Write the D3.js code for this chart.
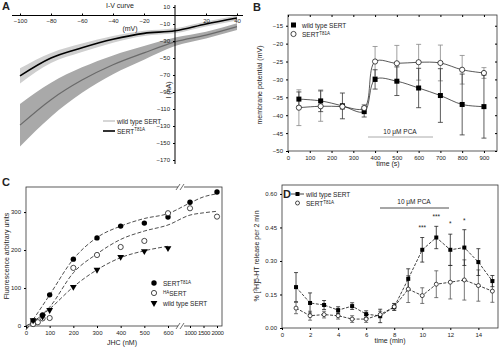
<!DOCTYPE html>
<html>
<head>
<meta charset="utf-8">
<script src="https://cdnjs.cloudflare.com/ajax/libs/d3/7.8.5/d3.min.js"></script>
<style>
  body, html { margin: 0; padding: 0; background: white; overflow: hidden; }
  svg text { font-family: 'Liberation Sans', Arial, sans-serif; fill: #222; }
  .tick text { font-size: 6px; }
  .axisLabel { font-size: 7px; }
  .panel { font-size: 11px; font-weight: bold; }
  .leg { font-size: 6.5px; }
</style>
</head>
<body>
<svg id="chart" width="500" height="349"></svg>
<script>
// ---- Panel A: I-V curve ----
const ivVoltage = [-100, -80, -60, -40, -20, 0, 20, 40];
const ivT81A = [-71, -50, -38, -28, -21, -18, -10, -3];
const ivT81ASem = [9, 6, 5, 4, 3, 3, 3, 3];
const ivWT = [-129, -99, -76, -58, -44, -31, -23, -13];
const ivWTSem = [25, 20, 15, 11, 8, 5, 4, 4];
const ivXTicks = [-100, -80, -60, -40, -20, 20, 40];
const ivYTicks = [10, -10, -30, -50, -70, -90, -110, -130, -150, -170];

// ---- Panel B: membrane potential ----
const mpTime = [50, 150, 250, 350, 400, 500, 600, 700, 800, 900];
const mpWT = [-35.5, -36, -37.4, -39, -30, -30.5, -32.4, -34.5, -37, -37.6];
const mpWTErr = [2, 3, 3.6, 1.5, 2.7, 4, 5.5, 7.5, 8.5, 8.8];
const mpT81A = [-37.9, -37.5, -37.6, -38, -25, -25.5, -25.2, -25.4, -27.3, -28.2];
const mpT81AErr = [5, 4.2, 0.8, 1, 4.2, 5, 5, 5, 4, 1.5];
const mpXTicks = [0, 100, 200, 300, 400, 500, 600, 700, 800, 900];
const mpYTicks = [-15, -20, -25, -30, -35, -40, -45, -50];

// ---- Panel C: uptake fluorescence ----
const flConc = [30, 70, 100, 200, 300, 400, 500, 600, 1000, 2000];
const flT81A = [13, 29, 82, 176, 232, 263, 271, 287, 326, 353];
const flHAConc = [30, 50, 70, 100, 200, 300, 400, 500, 600, 1000, 2000];
const flHA = [5, 10, 20, 21, 153, 187, 208, 224, 297, 310, 288];
const flWTConc = [30, 70, 100, 200, 300, 400, 500, 600];
const flWT = [15, 25, 42, 103, 148, 182, 197, 205];
// fitted curves
const fitConc = [0, 50, 100, 200, 300, 400, 500, 600, 1000, 1500, 2000];
const fitT81A = [-10, 35, 82, 176, 233, 263, 283, 296, 324, 340, 348];
const fitHA = [-8, 20, 50, 140, 190, 228, 250, 266, 292, 298, 302];
const fitWTConc = [0, 50, 100, 200, 300, 400, 500, 600];
const fitWT = [0, 20, 45, 103, 148, 180, 198, 210];
const flXTicks = [0, 100, 200, 300, 400, 500, 600, 1000, 1500, 2000];
const flYTicks = [0, 100, 200, 300];

// ---- Panel D: [3H]5-HT release ----
const relTime = [1, 2, 3, 4, 5, 6, 7, 8, 9, 10, 11, 12, 13, 14, 15];
const relWT = [0.183, 0.112, 0.103, 0.08, 0.098, 0.062, 0.054, 0.094, 0.22, 0.35, 0.405, 0.35, 0.36, 0.295, 0.21];
const relWTErr = [0.065, 0.045, 0.02, 0.015, 0.015, 0.015, 0.03, 0.015, 0.045, 0.055, 0.05, 0.07, 0.08, 0.06, 0.025];
const relT81A = [0.089, 0.055, 0.06, 0.055, 0.04, 0.04, 0.06, 0.095, 0.174, 0.145, 0.196, 0.205, 0.215, 0.19, 0.165];
const relT81AErr = [0.025, 0.02, 0.015, 0.015, 0.015, 0.015, 0.015, 0.015, 0.06, 0.035, 0.06, 0.075, 0.09, 0.07, 0.05];
const relStars = [{ t: 10, y: 0.44, s: "***" }, { t: 11, y: 0.49, s: "***" }, { t: 12, y: 0.455, s: "*" }, { t: 13, y: 0.47, s: "*" }];
const relXTicks = [0, 2, 4, 6, 8, 10, 12, 14];
const relYTicks = [0, 0.15, 0.30, 0.45, 0.60];

const svg = d3.select('#chart');

function sertLabel(sel, x, y, sup) {
  const t = sel.append('text').attr('class', 'leg').attr('x', x).attr('y', y);
  t.append('tspan').text('SERT');
  t.append('tspan').attr('dy', -2.5).attr('font-size', 4.5).text(sup);
}

// ================= A =================
(function () {
  const x = d3.scaleLinear().domain([-100, 40]).range([20, 237]);
  const y = d3.scaleLinear().domain([0, -170]).range([15.5, 160]);
  const g = svg.append('g');

  const area = (vals, sem) => d3.area()
    .x((d, i) => x(ivVoltage[i]))
    .y0((d, i) => y(vals[i] - sem[i]))
    .y1((d, i) => y(vals[i] + sem[i]))
    .curve(d3.curveMonotoneX)(ivVoltage);
  const line = (vals) => d3.line()
    .x((d, i) => x(ivVoltage[i]))
    .y((d, i) => y(vals[i]))
    .curve(d3.curveMonotoneX)(ivVoltage);

  g.append('path').attr('d', area(ivWT, ivWTSem)).attr('fill', '#a9a9a9');
  g.append('path').attr('d', area(ivT81A, ivT81ASem)).attr('fill', '#cfcfcf');
  g.append('path').attr('d', line(ivWT)).attr('fill', 'none').attr('stroke', '#6a6a6a').attr('stroke-width', 1.2);
  g.append('path').attr('d', line(ivT81A)).attr('fill', 'none').attr('stroke', '#000').attr('stroke-width', 1.6);

  // x axis along I = 0
  const xa = g.append('g').attr('transform', `translate(0,${y(0)})`)
    .call(d3.axisTop(x).tickValues(ivXTicks).tickSize(2).tickSizeOuter(0));
  xa.select('.domain').attr('d', `M12,0H243`);
  xa.selectAll('.tick text').attr('y', 7).attr('dy', 0);

  const ya = g.append('g').attr('transform', `translate(${x(0)},0)`)
    .call(d3.axisLeft(y).tickValues(ivYTicks).tickSize(2).tickSizeOuter(0));
  ya.select('.domain').attr('d', `M0,5V164`);

  g.append('text').attr('class', 'axisLabel').attr('x', 120).attr('y', 8).attr('text-anchor', 'middle').text('I-V curve');
  g.append('text').attr('class', 'axisLabel').attr('x', 130).attr('y', 31).attr('text-anchor', 'middle').text('(mV)');
  g.append('text').attr('class', 'axisLabel')
    .attr('transform', 'translate(171,90) rotate(-90)').attr('text-anchor', 'middle').text('I (nA)');

  // legend
  g.append('line').attr('x1', 103).attr('x2', 115).attr('y1', 121).attr('y2', 121).attr('stroke', '#bbb').attr('stroke-width', 1.2);
  g.append('text').attr('class', 'leg').attr('x', 117).attr('y', 123.5).text('wild type SERT');
  g.append('line').attr('x1', 103).attr('x2', 115).attr('y1', 131).attr('y2', 131).attr('stroke', '#000').attr('stroke-width', 1.6);
  sertLabel(g, 117, 133.5, 'T81A');

  g.append('text').attr('class', 'panel').attr('x', 2).attr('y', 10).text('A');
})();

// ================= B =================
(function () {
  const x = d3.scaleLinear().domain([0, 960]).range([288, 497]);
  const y = d3.scaleLinear().domain([-50, -12]).range([151, 15]);
  const g = svg.append('g');

  g.append('rect').attr('x', 288).attr('y', 15).attr('width', 209).attr('height', 136)
    .attr('fill', 'none').attr('stroke', '#333').attr('stroke-width', 0.8);
  const xa = g.append('g').attr('transform', 'translate(0,151)')
    .call(d3.axisBottom(x).tickValues(mpXTicks).tickSize(2).tickSizeOuter(0));
  const ya = g.append('g').attr('transform', 'translate(288,0)')
    .call(d3.axisLeft(y).tickValues(mpYTicks).tickSize(2).tickSizeOuter(0));
  // mirrored ticks on the top and right
  g.append('g').attr('transform', 'translate(0,15)')
    .call(d3.axisBottom(x).tickValues(mpXTicks).tickSize(2).tickFormat('').tickSizeOuter(0));
  g.append('g').attr('transform', 'translate(497,0)')
    .call(d3.axisLeft(y).tickValues(mpYTicks).tickSize(2).tickFormat('').tickSizeOuter(0));
  g.selectAll('.domain').remove();

  const line = (vals) => d3.line()
    .x((d, i) => x(mpTime[i])).y((d, i) => y(vals[i]))
    .curve(d3.curveCatmullRom.alpha(0.5))(mpTime);

  // error bars
  function bars(vals, err, col) {
    mpTime.forEach((t, i) => {
      const cx = x(t);
      g.append('line').attr('x1', cx).attr('x2', cx).attr('y1', y(vals[i] - err[i])).attr('y2', y(vals[i] + err[i])).attr('stroke', col).attr('stroke-width', 0.8);
      [vals[i] - err[i], vals[i] + err[i]].forEach(v =>
        g.append('line').attr('x1', cx - 2.5).attr('x2', cx + 2.5).attr('y1', y(v)).attr('y2', y(v)).attr('stroke', col).attr('stroke-width', 0.8));
    });
  }
  bars(mpT81A, mpT81AErr, '#888');
  bars(mpWT, mpWTErr, '#333');

  g.append('path').attr('d', line(mpWT)).attr('fill', 'none').attr('stroke', '#111').attr('stroke-width', 0.7);
  g.append('path').attr('d', line(mpT81A)).attr('fill', 'none').attr('stroke', '#111').attr('stroke-width', 0.7);

  g.selectAll('.sq').data(mpTime).join('rect')
    .attr('x', (d) => x(d) - 2.5).attr('y', (d, i) => y(mpWT[i]) - 2.5)
    .attr('width', 5).attr('height', 5).attr('fill', '#000');
  g.selectAll('.ci').data(mpTime).join('circle')
    .attr('cx', (d) => x(d)).attr('cy', (d, i) => y(mpT81A[i])).attr('r', 2.6)
    .attr('fill', 'white').attr('stroke', '#000').attr('stroke-width', 0.7);

  // PCA bar
  g.append('line').attr('x1', 368).attr('x2', 433).attr('y1', 137).attr('y2', 137).attr('stroke', '#aaa').attr('stroke-width', 1);
  g.append('text').attr('class', 'leg').attr('x', 400).attr('y', 134).attr('text-anchor', 'middle').text('10 μM PCA');

  g.append('text').attr('class', 'axisLabel').attr('x', 388).attr('y', 166).attr('text-anchor', 'middle').text('time (s)');
  g.append('text').attr('class', 'axisLabel')
    .attr('transform', 'translate(262,85) rotate(-90)').attr('text-anchor', 'middle').text('membrane potential (mV)');

  // legend
  g.append('rect').attr('x', 291).attr('y', 22.5).attr('width', 5).attr('height', 5).attr('fill', '#000');
  g.append('text').attr('class', 'leg').attr('x', 302).attr('y', 27.5).text('wild type SERT');
  g.append('circle').attr('cx', 293.5).attr('cy', 34).attr('r', 2.6).attr('fill', 'white').attr('stroke', '#000').attr('stroke-width', 0.7);
  sertLabel(g, 302, 37, 'T81A');

  g.append('text').attr('class', 'panel').attr('x', 253).attr('y', 11).text('B');
})();

// ================= C =================
(function () {
  // broken x axis: linear 0-600, then compressed 1000-2000
  const x = d3.scaleLinear().domain([0, 600, 1000, 2000]).range([26, 168, 190, 217]);
  const y = d3.scaleLinear().domain([0, 366]).range([326, 187]);
  const g = svg.append('g');

  g.append('rect').attr('x', 26).attr('y', 187).attr('width', 196).attr('height', 139)
    .attr('fill', 'none').attr('stroke', '#333').attr('stroke-width', 0.8);
  const xa = g.append('g').attr('transform', 'translate(0,326)')
    .call(d3.axisBottom(x).tickValues(flXTicks).tickSize(2).tickFormat(d3.format('d')).tickSizeOuter(0));
  xa.selectAll('.tick text').filter(d => d >= 1000).attr('font-size', 5).attr('letter-spacing', -0.3);
  const ya = g.append('g').attr('transform', 'translate(26,0)')
    .call(d3.axisLeft(y).tickValues(flYTicks).tickSize(2).tickSizeOuter(0));
  g.selectAll('.domain').remove();

  // axis break marks
  [187, 326].forEach(yy => {
    g.append('rect').attr('x', 178).attr('y', yy - 1).attr('width', 6).attr('height', 2).attr('fill', 'white');
    [178, 182].forEach(xx => g.append('line').attr('x1', xx - 2).attr('x2', xx + 2).attr('y1', yy + 3).attr('y2', yy - 3).attr('stroke', '#333').attr('stroke-width', 0.7));
  });

  const dashed = (cx, vals) => d3.line().x((d, i) => x(cx[i])).y((d, i) => y(vals[i])).curve(d3.curveMonotoneX)(cx);
  [[fitConc, fitT81A], [fitConc, fitHA], [fitWTConc, fitWT]].forEach(([cx, v]) =>
    g.append('path').attr('d', dashed(cx, v)).attr('fill', 'none').attr('stroke', '#222').attr('stroke-width', 0.8).attr('stroke-dasharray', '4,2'));

  g.selectAll('.fc').data(flConc).join('circle')
    .attr('cx', d => x(d)).attr('cy', (d, i) => y(flT81A[i])).attr('r', 2.7).attr('fill', '#000');
  g.selectAll('.oc').data(flHAConc).join('circle')
    .attr('cx', d => x(d)).attr('cy', (d, i) => y(flHA[i])).attr('r', 2.6)
    .attr('fill', 'white').attr('stroke', '#000').attr('stroke-width', 0.7);
  const tri = d3.symbol().type(d3.symbolTriangle).size(20);
  g.selectAll('.tr').data(flWTConc).join('path')
    .attr('d', tri).attr('transform', (d, i) => `translate(${x(d)},${y(flWT[i])}) rotate(180)`).attr('fill', '#000');

  g.append('text').attr('class', 'axisLabel').attr('x', 122).attr('y', 345).attr('text-anchor', 'middle').text('JHC (nM)');
  g.append('text').attr('class', 'axisLabel')
    .attr('transform', 'translate(9,256) rotate(-90)').attr('text-anchor', 'middle').text('Fluorescence arbitrary units');

  // legend
  g.append('circle').attr('cx', 154).attr('cy', 283).attr('r', 2.7).attr('fill', '#000');
  sertLabel(g, 163, 286, 'T81A');
  g.append('circle').attr('cx', 154).attr('cy', 293).attr('r', 2.6).attr('fill', 'white').attr('stroke', '#000').attr('stroke-width', 0.7);
  const ha = g.append('text').attr('class', 'leg').attr('x', 163).attr('y', 296);
  ha.append('tspan').attr('dy', -2.5).attr('font-size', 4.5).text('HA');
  ha.append('tspan').attr('dy', 2.5).text('SERT');
  g.append('path').attr('d', tri).attr('transform', 'translate(154,303) rotate(180)').attr('fill', '#000');
  g.append('text').attr('class', 'leg').attr('x', 163).attr('y', 305.5).text('wild type SERT');

  g.append('text').attr('class', 'panel').attr('x', 2).attr('y', 186).text('C');
})();

// ================= D =================
(function () {
  const x = d3.scaleLinear().domain([0, 15.4]).range([282, 498]);
  const y = d3.scaleLinear().domain([0, 0.64]).range([328, 185]);
  const g = svg.append('g');

  g.append('rect').attr('x', 282).attr('y', 185).attr('width', 216).attr('height', 143)
    .attr('fill', 'none').attr('stroke', '#333').attr('stroke-width', 0.8);
  g.append('g').attr('transform', 'translate(0,328)')
    .call(d3.axisBottom(x).tickValues(relXTicks).tickSize(2).tickSizeOuter(0));
  g.append('g').attr('transform', 'translate(282,0)')
    .call(d3.axisLeft(y).tickValues(relYTicks).tickSize(2).tickFormat(d3.format('.2f')).tickSizeOuter(0));
  g.selectAll('.domain').remove();

  function bars(vals, err, col) {
    relTime.forEach((t, i) => {
      const cx = x(t);
      g.append('line').attr('x1', cx).attr('x2', cx).attr('y1', y(vals[i] - err[i])).attr('y2', y(vals[i] + err[i])).attr('stroke', col).attr('stroke-width', 0.8);
      [vals[i] - err[i], vals[i] + err[i]].forEach(v =>
        g.append('line').attr('x1', cx - 2).attr('x2', cx + 2).attr('y1', y(v)).attr('y2', y(v)).attr('stroke', col).attr('stroke-width', 0.8));
    });
  }
  bars(relT81A, relT81AErr, '#555');
  bars(relWT, relWTErr, '#222');

  const line = (vals) => d3.line().x((d, i) => x(relTime[i])).y((d, i) => y(vals[i]))(relTime);
  g.append('path').attr('d', line(relWT)).attr('fill', 'none').attr('stroke', '#111').attr('stroke-width', 0.8).attr('stroke-dasharray', '3,1.5');
  g.append('path').attr('d', line(relT81A)).attr('fill', 'none').attr('stroke', '#111').attr('stroke-width', 0.8).attr('stroke-dasharray', '3,1.5');

  g.selectAll('.sq').data(relTime).join('rect')
    .attr('x', d => x(d) - 2).attr('y', (d, i) => y(relWT[i]) - 2).attr('width', 4).attr('height', 4).attr('fill', '#000');
  g.selectAll('.ci').data(relTime).join('circle')
    .attr('cx', d => x(d)).attr('cy', (d, i) => y(relT81A[i])).attr('r', 2)
    .attr('fill', 'white').attr('stroke', '#000').attr('stroke-width', 0.7);

  relStars.forEach(s =>
    g.append('text').attr('class', 'leg').attr('x', x(s.t)).attr('y', y(s.y)).attr('text-anchor', 'middle').attr('font-size', 7).text(s.s));

  // PCA bar
  g.append('line').attr('x1', 380).attr('x2', 449).attr('y1', 208).attr('y2', 208).attr('stroke', '#222').attr('stroke-width', 0.8);
  g.append('text').attr('class', 'leg').attr('x', 414).attr('y', 204).attr('text-anchor', 'middle').text('10 μM PCA');

  g.append('text').attr('class', 'axisLabel').attr('x', 390).attr('y', 343).attr('text-anchor', 'middle').text('time (min)');
  const yl = g.append('text').attr('class', 'axisLabel')
    .attr('transform', 'translate(259,256) rotate(-90)').attr('text-anchor', 'middle');
  yl.append('tspan').text('% [');
  yl.append('tspan').attr('dy', -2).attr('font-size', 4.5).text('3');
  yl.append('tspan').attr('dy', 2).text('H]5-HT release per 2 min');

  // legend
  g.append('line').attr('x1', 291).attr('x2', 304).attr('y1', 194).attr('y2', 194).attr('stroke', '#111').attr('stroke-width', 0.8);
  g.append('rect').attr('x', 295.5).attr('y', 192).attr('width', 4).attr('height', 4).attr('fill', '#000');
  g.append('text').attr('class', 'leg').attr('x', 306).attr('y', 196.5).text('wild type SERT');
  g.append('circle').attr('cx', 297.5).attr('cy', 203).attr('r', 2).attr('fill', 'white').attr('stroke', '#000').attr('stroke-width', 0.7);
  sertLabel(g, 306, 206, 'T81A');

  g.append('text').attr('class', 'panel').attr('x', 283).attr('y', 198).attr('font-size', 10).text('D');
})();
</script>
</body>
</html>
